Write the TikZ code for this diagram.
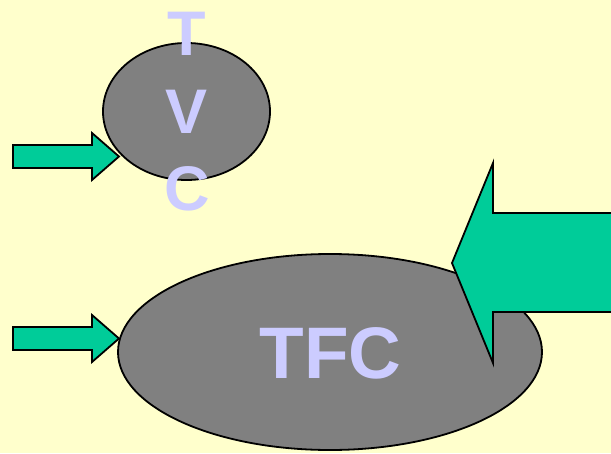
\documentclass[tikz,border=0pt]{standalone}
\usepackage{fontspec}
\setmainfont{Liberation Sans}
\usetikzlibrary{shapes.geometric}
\definecolor{bgyellow}{HTML}{FFFFCC}
\definecolor{organgray}{HTML}{808080}
\definecolor{arrowgreen}{HTML}{00CC99}
\definecolor{letterblue}{HTML}{CCCCFF}

\begin{document}
\begin{tikzpicture}[x=1pt, y=-1pt, every node/.style={inner sep=0pt, outer sep=0pt},
  organ/.style={draw, ellipse, fill=organgray, line width=1.8pt},
  lettertext/.style={text=letterblue, align=center},
  blockarrow/.style={draw, fill=arrowgreen, line width=1.8pt, line join=miter}]
\fill[bgyellow] (0,0) rectangle (611,453);
\useasboundingbox (0,0) rectangle (611,453);
% small organ
\node[organ, minimum width=167pt, minimum height=137pt] (tvc) at (186.5,111.5) {};
\node[lettertext, font=\fontsize{63}{77.5}\selectfont\bfseries] (tvctext) at (187,112) {T\\V\\C};
% large organ
\node[organ, minimum width=424pt, minimum height=196pt] (tfc) at (330,352) {};
\node[lettertext, font=\fontsize{73}{80}\selectfont\bfseries] (tfctext) at (330.5,353.5) {TFC};
% inputs
\foreach \yc/\name in {156.5/tvcin, 338.5/tfcin} {
  \coordinate (\name) at (119,\yc);
  \draw[blockarrow] (13,{\yc-11.5}) -- (92,{\yc-11.5}) -- (92,{\yc-23.5}) -- (\name)
    -- (92,{\yc+23.5}) -- (92,{\yc+11.5}) -- (13,{\yc+11.5}) -- cycle;
}
% big arrow from the right
\coordinate (bigtip) at (452,263);
\fill[arrowgreen] (611,213) -- (493,213) -- (493,163) -- (bigtip) -- (493,363) -- (493,312) -- (611,312) -- cycle;
\draw[line width=1.8pt, line join=miter] (611,213) -- (493,213) -- (493,163) -- (bigtip) -- (493,363) -- (493,312) -- (611,312);
\end{tikzpicture}
\end{document}
